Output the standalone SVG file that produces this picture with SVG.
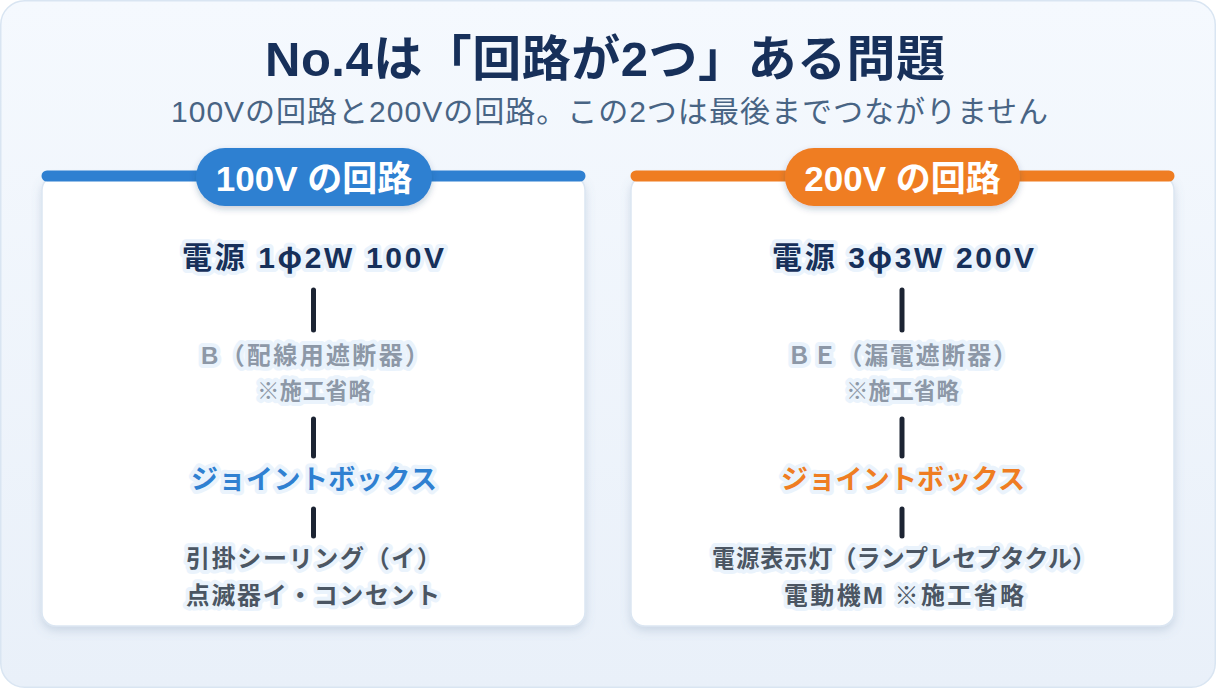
<svg xmlns="http://www.w3.org/2000/svg" width="1216" height="688" viewBox="0 0 1216 688">
<defs>
<linearGradient id="bg" x1="0" y1="0" x2="0" y2="1">
<stop offset="0" stop-color="#f5f9fe"/>
<stop offset="1" stop-color="#e9f0f9"/>
</linearGradient>
<filter id="sh" x="-10%" y="-10%" width="120%" height="130%">
<feDropShadow dx="0" dy="4" stdDeviation="5" flood-color="#6b84a6" flood-opacity="0.25"/>
</filter>
<filter id="psh" x="-20%" y="-30%" width="140%" height="170%">
<feDropShadow dx="0" dy="3" stdDeviation="3" flood-color="#203a60" flood-opacity="0.25"/>
</filter>
</defs>
<style>
text{font-family:"Liberation Sans","Noto Sans CJK JP",sans-serif}
.cjk{font-family:"Noto Sans CJK JP",sans-serif}
.title{font-size:49px;font-weight:700;fill:#17305a}
.sub{font-size:30px;font-weight:400;fill:#486484}
.pill{font-size:35px;font-weight:700;fill:#ffffff;text-anchor:middle}
.h{stroke:#eaf3fc;stroke-width:8px;stroke-linejoin:round;paint-order:stroke}
.src{font-size:30px;font-weight:700;fill:#17305a}
.brk{font-size:24px;font-weight:700;fill:#8d98a7}
.note{font-size:22.5px;font-weight:700;fill:#8d98a7}
.jb{font-size:27px;font-weight:700}
.ld{font-size:24px;font-weight:700;fill:#4b5663}
.panel{fill:#ffffff;stroke:#dbe6f2;stroke-width:1.5}
.conn line{stroke:#1c2433;stroke-width:5;stroke-linecap:round}
</style>
<rect x="0.75" y="0.75" width="1214.5" height="686.5" rx="24" fill="url(#bg)" stroke="#d9e5f2" stroke-width="1.5"/>
<g id="title">
<text class="title" x="265" y="76" textLength="680" lengthAdjust="spacing">No.4は「回路が2つ」ある問題</text>
<text class="sub" x="171" y="122" textLength="877" lengthAdjust="spacing">100Vの回路と200Vの回路。この2つは最後までつながりません</text>
</g>
<g id="panel-100v">
<rect class="panel" x="42" y="176" width="543" height="450" rx="14" filter="url(#sh)"/>
<line x1="47" y1="176" x2="580" y2="176" stroke="#2f80d1" stroke-width="11" stroke-linecap="round"/>
<rect x="196" y="148" width="236" height="58" rx="29" fill="#2f80d1" filter="url(#psh)"/>
<text class="pill" x="314" y="191">100V の回路</text>
</g>
<g id="panel-200v">
<rect class="panel" x="631" y="176" width="543" height="450" rx="14" filter="url(#sh)"/>
<line x1="636" y1="176" x2="1169" y2="176" stroke="#ef7d22" stroke-width="11" stroke-linecap="round"/>
<rect x="785" y="148" width="235" height="58" rx="29" fill="#ef7d22" filter="url(#psh)"/>
<text class="pill" x="902.5" y="191">200V の回路</text>
</g>
<g class="conn" id="connectors">
<line x1="313.5" y1="290" x2="313.5" y2="330"/>
<line x1="313.5" y1="419" x2="313.5" y2="456"/>
<line x1="313.5" y1="509" x2="313.5" y2="536"/>
<line x1="902" y1="290" x2="902" y2="330"/>
<line x1="902" y1="419" x2="902" y2="456"/>
<line x1="902" y1="509" x2="902" y2="536"/>
</g>
<g id="n100-source"><text class="src h" x="182" y="268" textLength="262" lengthAdjust="spacing">電源 1<tspan class="cjk">φ</tspan>2W 100V</text></g>
<g id="n100-breaker"><text class="brk h" x="201" y="364" textLength="228" lengthAdjust="spacing">B（配線用遮断器）</text><text class="note h" x="257" y="399" textLength="114" lengthAdjust="spacing">※施工省略</text></g>
<g id="n100-jb"><text class="jb h" x="191" y="489" textLength="246" lengthAdjust="spacing" fill="#2f80d1">ジョイントボックス</text></g>
<g id="n100-load"><text class="ld h" x="186" y="567" textLength="255" lengthAdjust="spacing">引掛シーリング（イ）</text><text class="ld h" x="186" y="604" textLength="254" lengthAdjust="spacing">点滅器イ・コンセント</text></g>
<g id="n200-source"><text class="src h" x="772" y="268" textLength="262" lengthAdjust="spacing">電源 3<tspan class="cjk">φ</tspan>3W 200V</text></g>
<g id="n200-breaker"><text class="brk h" x="787" y="364" textLength="230" lengthAdjust="spacing">ＢＥ（漏電遮断器）</text><text class="note h" x="846" y="399" textLength="113" lengthAdjust="spacing">※施工省略</text></g>
<g id="n200-jb"><text class="jb h" x="781" y="489" textLength="244" lengthAdjust="spacing" fill="#ef7d22">ジョイントボックス</text></g>
<g id="n200-load"><text class="ld h" x="712" y="567" textLength="384" lengthAdjust="spacing">電源表示灯（ランプレセプタクル）</text><text class="ld h" x="784" y="604" textLength="240" lengthAdjust="spacing">電動機M ※施工省略</text></g>
</svg>
